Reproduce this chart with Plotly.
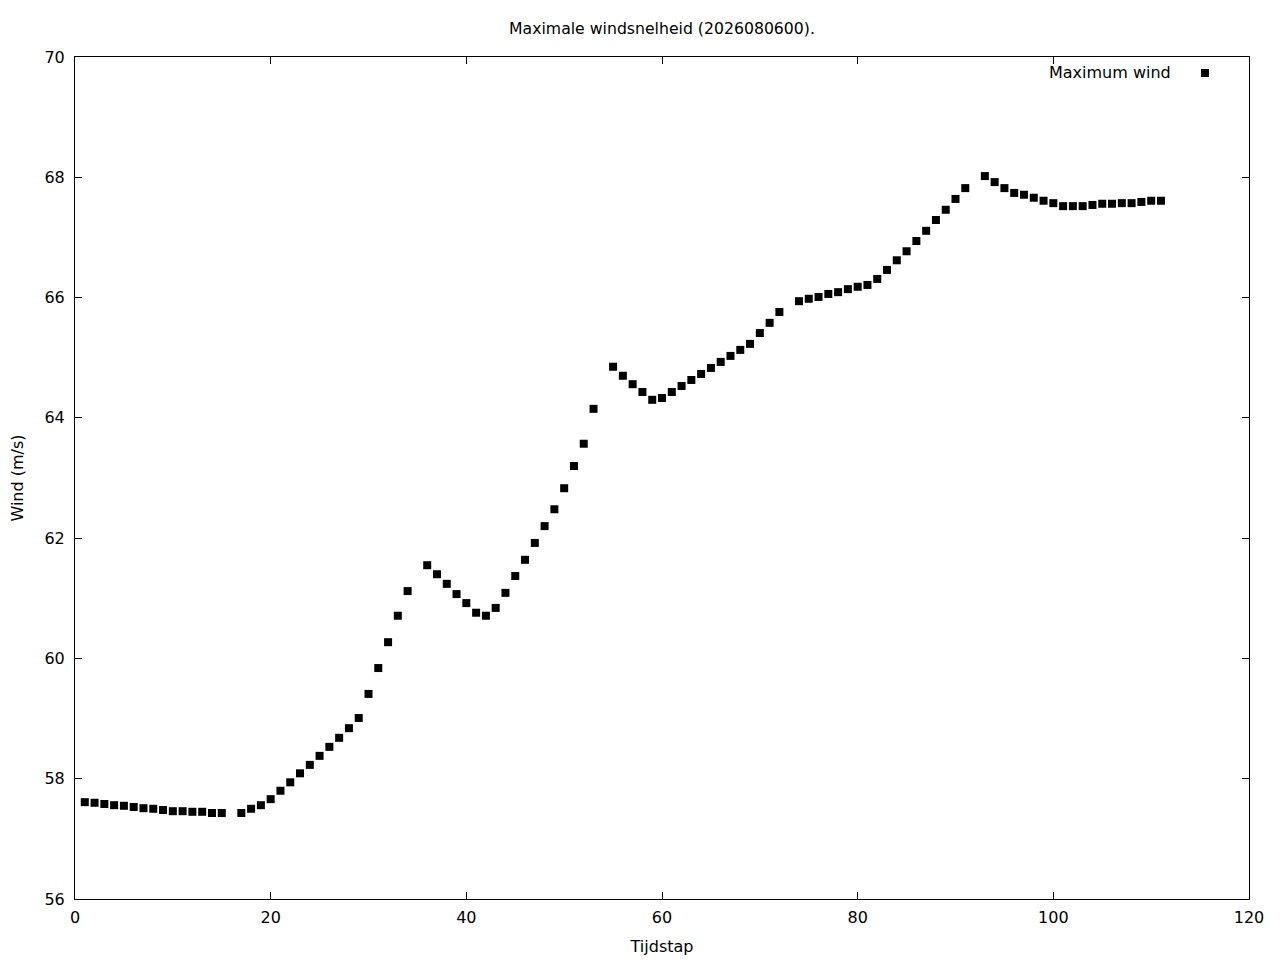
import plotly.graph_objects as go

tijdstap = [1,2,3,4,5,6,7,8,9,10,11,12,13,14,15,
            17,18,19,20,21,22,23,24,25,26,27,28,29,30,31,32,33,34,
            36,37,38,39,40,41,42,43,44,45,46,47,48,49,50,51,52,53,
            55,56,57,58,59,60,61,62,63,64,65,66,67,68,69,70,71,72,
            74,75,76,77,78,79,80,81,82,83,84,85,86,87,88,89,90,91,
            93,94,95,96,97,98,99,100,101,102,103,104,105,106,107,108,109,110,111]
wind = [57.61,57.60,57.58,57.56,57.55,57.53,57.51,57.50,57.48,57.46,57.46,57.45,57.45,57.43,57.43,
        57.43,57.50,57.56,57.66,57.80,57.94,58.09,58.23,58.38,58.53,58.68,58.84,59.01,59.41,59.84,60.27,60.71,61.12,
        61.55,61.40,61.24,61.07,60.92,60.76,60.71,60.84,61.09,61.37,61.64,61.92,62.20,62.48,62.83,63.20,63.57,64.15,
        64.85,64.70,64.56,64.43,64.30,64.33,64.43,64.53,64.63,64.73,64.83,64.93,65.03,65.13,65.23,65.41,65.58,65.76,
        65.94,65.98,66.01,66.06,66.09,66.14,66.18,66.21,66.31,66.46,66.62,66.77,66.94,67.11,67.29,67.46,67.64,67.82,
        68.02,67.92,67.82,67.74,67.71,67.66,67.61,67.57,67.52,67.52,67.52,67.54,67.56,67.56,67.57,67.57,67.59,67.61,67.61]

x_ticks = [0, 20, 40, 60, 80, 100, 120]
y_ticks = [56, 58, 60, 62, 64, 66, 68, 70]

font = "DejaVu Sans"
fs = 16

fig = go.Figure()
fig.add_trace(go.Scatter(
    x=tijdstap, y=wind, mode="markers", name="Maximum wind",
    marker=dict(symbol="square", size=8, color="black", line=dict(width=0)),
    showlegend=False,
))

# legend (gnuplot style: text then sample on the right)
fig.add_annotation(xref="paper", yref="paper", x=(1173-75)/1174, y=(899-73)/842, xanchor="right", yanchor="middle",
                   text="Maximum wind", showarrow=False, font=dict(family=font, size=fs, color="black"))
fig.add_shape(type="rect", xref="paper", yref="paper",
              x0=(1201-75)/1174, x1=(1209-75)/1174, y0=(899-77)/842, y1=(899-69)/842,
              fillcolor="black", line=dict(width=0))

axis_common = dict(
    showline=True, linecolor="black", linewidth=1, mirror="ticks",
    ticks="inside", ticklen=7, tickcolor="black", tickwidth=1,
    showgrid=False, zeroline=False,
    tickfont=dict(family=font, size=fs, color="black"),
)

fig.update_xaxes(range=[0, 120], tickvals=x_ticks, ticklabelstandoff=4,
                 title=dict(text="Tijdstap", font=dict(family=font, size=fs, color="black"), standoff=14), **axis_common)
fig.update_yaxes(range=[56, 70], tickvals=y_ticks, ticklabelstandoff=6,
                 title=dict(text="Wind (m/s)", font=dict(family=font, size=fs, color="black"), standoff=21), **axis_common)

fig.update_layout(
    width=1280, height=960,
    margin=dict(l=67, r=39, t=49, b=69, autoexpand=False),
    plot_bgcolor="white", paper_bgcolor="white",
    title=dict(text="Maximale windsnelheid (2026080600).", xref="paper", x=0.5, xanchor="center",
               y=1-21/960, yanchor="middle",
               font=dict(family=font, size=15.7, color="black")),
    font=dict(family=font, color="black"),
)

fig.write_html("out.html")
